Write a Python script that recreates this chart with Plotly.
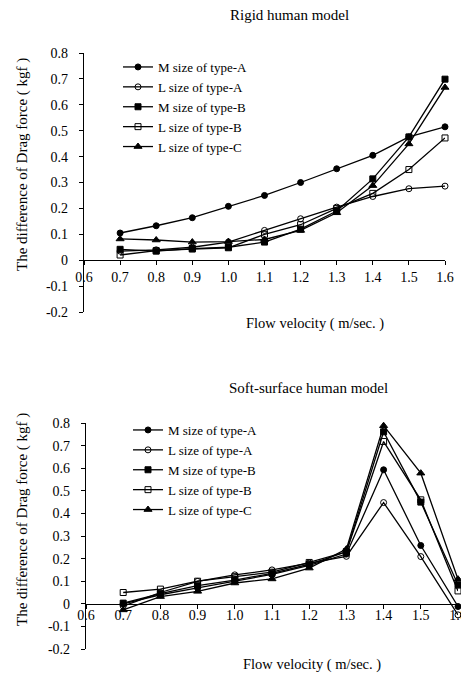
import plotly.graph_objects as go

velocity = [0.7, 0.8, 0.9, 1.0, 1.1, 1.2, 1.3, 1.4, 1.5, 1.6]
series_names = ["M size of type-A", "L size of type-A", "M size of type-B",
                "L size of type-B", "L size of type-C"]

# Rigid human model
rigid_M_A = [0.105, 0.133, 0.164, 0.208, 0.250, 0.300, 0.353, 0.405, 0.476, 0.515]
rigid_L_A = [0.035, 0.040, 0.050, 0.070, 0.115, 0.160, 0.205, 0.246, 0.276, 0.286]
rigid_M_B = [0.042, 0.035, 0.045, 0.050, 0.070, 0.120, 0.190, 0.314, 0.476, 0.699]
rigid_L_B = [0.020, 0.037, 0.043, 0.048, 0.100, 0.137, 0.200, 0.258, 0.350, 0.472]
rigid_L_C = [0.082, 0.078, 0.070, 0.072, 0.080, 0.115, 0.183, 0.288, 0.449, 0.667]

# Soft-surface human model
soft_M_A = [0.000, 0.040, 0.070, 0.100, 0.130, 0.170, 0.220, 0.593, 0.258, -0.012]
soft_L_A = [-0.010, 0.050, 0.099, 0.128, 0.150, 0.180, 0.210, 0.448, 0.209, -0.049]
soft_M_B = [0.003, 0.045, 0.080, 0.105, 0.135, 0.175, 0.230, 0.761, 0.450, 0.084]
soft_L_B = [0.050, 0.065, 0.100, 0.120, 0.140, 0.183, 0.230, 0.718, 0.460, 0.057]
soft_L_C = [-0.027, 0.032, 0.055, 0.092, 0.110, 0.158, 0.242, 0.788, 0.578, 0.109]

x_ticks = [0.6, 0.7, 0.8, 0.9, 1.0, 1.1, 1.2, 1.3, 1.4, 1.5, 1.6]
x_ticktext = ["0.6", "0.7", "0.8", "0.9", "1.0", "1.1", "1.2", "1.3", "1.4", "1.5", "1.6"]
y_ticks = [0.8, 0.7, 0.6, 0.5, 0.4, 0.3, 0.2, 0.1, 0, -0.1, -0.2]
y_ticktext = ["0.8", "0.7", "0.6", "0.5", "0.4", "0.3", "0.2", "0.1", "0", "-0.1", "-0.2"]

# page body has an 8px default margin; figure sized to fit the window
OFF = 8
W, H = 469 - OFF, 675 - OFF
FONT = "Liberation Serif"
symbols = ["circle", "circle-open", "square", "square-open", "triangle-up"]
sizes = [6, 6, 6, 6, 7]

fig = go.Figure()

def px_x(p):
    return (p - OFF) / W

def px_y(p):
    return 1 - (p - OFF) / H

# domains (window-pixel based)
top_x = [px_x(84), px_x(445)]
top_y = [px_y(312), px_y(53)]
bot_x = [px_x(86), px_x(458)]
bot_y = [px_y(649), px_y(423)]

rigid = [rigid_M_A, rigid_L_A, rigid_M_B, rigid_L_B, rigid_L_C]
soft = [soft_M_A, soft_L_A, soft_M_B, soft_L_B, soft_L_C]

for i, (name, vals) in enumerate(zip(series_names, rigid)):
    fig.add_trace(go.Scatter(
        x=velocity, y=vals, name=name, mode="lines+markers",
        xaxis="x", yaxis="y", legend="legend",
        line=dict(color="black", width=1.3),
        marker=dict(symbol=symbols[i], size=sizes[i], color="black",
                    line=dict(color="black", width=1)),
        cliponaxis=False))

for i, (name, vals) in enumerate(zip(series_names, soft)):
    fig.add_trace(go.Scatter(
        x=velocity, y=vals, name=name, mode="lines+markers",
        xaxis="x2", yaxis="y2", legend="legend2",
        line=dict(color="black", width=1.3),
        marker=dict(symbol=symbols[i], size=sizes[i], color="black",
                    line=dict(color="black", width=1)),
        cliponaxis=False))

def zero_pos(dom):
    return dom[0] + (0 - (-0.2)) / 1.0 * (dom[1] - dom[0])

axis_common = dict(showgrid=False, zeroline=False, showline=True, linecolor="black",
                   linewidth=1.3, ticks="outside", ticklen=4, tickcolor="black",
                   tickwidth=1.2, tickfont=dict(family=FONT, size=14, color="black"))

fig.update_layout(
    width=W, height=H,
    margin=dict(l=0, r=0, t=0, b=0, autoexpand=False),
    paper_bgcolor="white", plot_bgcolor="white",
    font=dict(family=FONT, size=14, color="black"),
    xaxis=dict(domain=top_x, range=[0.6, 1.6], anchor="free", position=zero_pos(top_y),
               tickvals=x_ticks, ticktext=x_ticktext, ticklabelstandoff=0, **axis_common),
    yaxis=dict(domain=top_y, range=[-0.2, 0.8], anchor="x",
               tickvals=y_ticks, ticktext=y_ticktext, ticklabelstandoff=8, **axis_common),
    xaxis2=dict(domain=bot_x, range=[0.6, 1.6], anchor="free", position=zero_pos(bot_y),
                tickvals=x_ticks, ticktext=x_ticktext, ticklabelstandoff=-6, **axis_common),
    yaxis2=dict(domain=bot_y, range=[-0.2, 0.8], anchor="x2",
                tickvals=y_ticks, ticktext=y_ticktext, ticklabelstandoff=8, **axis_common),
    legend=dict(x=px_x(118), y=px_y(52), xanchor="left", yanchor="top",
                bgcolor="rgba(0,0,0,0)", font=dict(family=FONT, size=13),
                itemwidth=30, tracegroupgap=0),
    legend2=dict(x=px_x(128), y=px_y(415), xanchor="left", yanchor="top",
                 bgcolor="rgba(0,0,0,0)", font=dict(family=FONT, size=13),
                 itemwidth=30, tracegroupgap=0),
    showlegend=True,
)

ann = [
    dict(text="Rigid human model", x=px_x(289), y=px_y(15), size=15),
    dict(text="Soft-surface human model", x=px_x(308), y=px_y(388), size=15),
    dict(text="Flow velocity ( m/sec. )", x=px_x(315), y=px_y(324), size=14.5),
    dict(text="Flow velocity ( m/sec. )", x=px_x(312), y=px_y(664), size=14.5),
    dict(text="The difference of Drag force ( kgf )", x=px_x(22), y=px_y(165),
         textangle=-90, size=15),
    dict(text="The difference of Drag force ( kgf )", x=px_x(22), y=px_y(520),
         textangle=-90, size=15),
]
for a in ann:
    size = a.pop("size")
    fig.add_annotation(xref="paper", yref="paper", showarrow=False,
                       xanchor="center", yanchor="middle",
                       font=dict(family=FONT, size=size, color="black"), **a)

fig.write_html("out.html")
